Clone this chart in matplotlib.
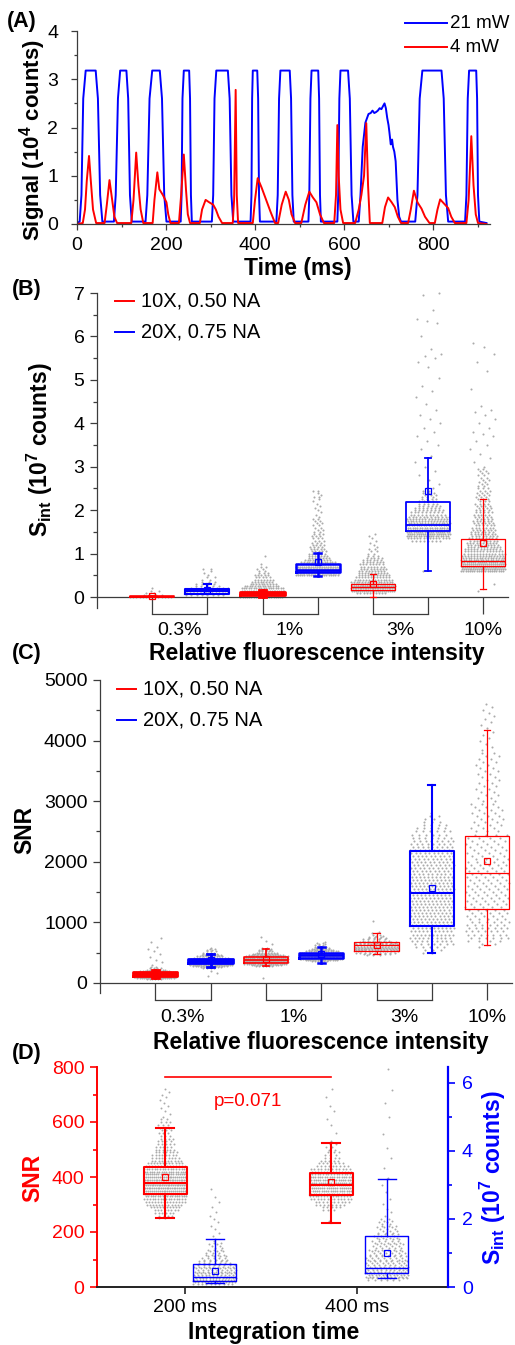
import matplotlib
matplotlib.use('Agg')
import matplotlib.pyplot as plt
import numpy as np
from matplotlib.ticker import MultipleLocator
from matplotlib.transforms import offset_copy
from matplotlib.lines import Line2D

plt.rcParams['font.family'] = ['Liberation Sans', 'DejaVu Sans']
plt.rcParams['mathtext.fontset'] = 'custom'
plt.rcParams['mathtext.rm'] = 'Liberation Sans'
plt.rcParams['mathtext.bf'] = 'Liberation Sans:bold'

# ---------------- DATA ----------------
# Panel A: signal traces (time in ms, signal in 1e4 counts)
A_t_21 = [0, 6, 10, 14, 19.5, 42, 47, 52, 57,
          83, 87, 92, 97, 111, 115, 119, 123,
          154, 158, 163, 169, 186, 191, 196, 201,
          233, 235, 237, 240, 252, 254, 256, 258,
          303, 306, 309, 313, 339, 343, 347, 351,
          390, 392, 393.5, 395, 405, 407, 409, 411,
          448, 451, 454, 457, 478, 481, 484, 487,
          520, 522, 524.5, 527, 542, 544, 546, 548,
          585, 587, 589.5, 592, 609, 613, 617, 621,
          633, 637, 642, 648, 655, 660, 664, 668, 672, 676, 680, 684, 688, 691, 694,
          697, 700, 702, 705, 708, 710, 713, 716, 718, 720, 724, 728,
          760, 765, 770, 776, 819, 824, 829, 834,
          872, 875, 878, 881, 897, 899, 901, 904, 920]
A_v_21 = [0.02, 0.05, 0.6, 2.6, 3.18, 3.18, 2.6, 0.6, 0.05,
          0.05, 0.6, 2.6, 3.18, 3.18, 2.6, 0.6, 0.05,
          0.05, 0.6, 2.6, 3.18, 3.18, 2.6, 0.6, 0.05,
          0.05, 0.6, 2.6, 3.18, 3.18, 2.6, 0.6, 0.05,
          0.05, 0.6, 2.6, 3.18, 3.18, 2.6, 0.6, 0.05,
          0.05, 0.6, 2.6, 3.18, 3.18, 2.6, 0.6, 0.05,
          0.05, 0.6, 2.6, 3.18, 3.18, 2.6, 0.6, 0.05,
          0.05, 0.6, 2.6, 3.18, 3.18, 2.6, 0.6, 0.05,
          0.05, 0.6, 2.6, 3.18, 3.18, 2.6, 0.6, 0.05,
          0.05, 0.6, 1.6, 2.1, 2.28, 2.3, 2.35, 2.3, 2.32, 2.35, 2.4, 2.38, 2.45, 2.5, 2.4,
          2.2, 2.05, 1.9, 1.65, 1.75, 1.6, 1.5, 1.3, 0.9, 0.5, 0.15, 0.05,
          0.05, 0.6, 2.6, 3.18, 3.18, 2.6, 0.6, 0.05,
          0.05, 0.6, 2.6, 3.18, 3.18, 2.6, 0.6, 0.05, 0.02]
A_t_4 = [0, 13, 18, 22, 27, 31, 36, 43,
         62, 67, 73, 79, 84, 90,
         122, 127, 133, 138, 143, 149,
         170, 174, 180.5, 185, 193, 201, 205, 210,
         229, 234, 240, 245, 249, 254,
         276, 281, 289, 297, 306, 312, 318, 326,
         350, 353, 356.5, 359, 362,
         395, 400, 406, 415, 425, 435, 445,
         452, 460, 469, 476, 482, 490,
         504, 513, 522, 530, 538, 546, 555,
         578, 582, 585, 588, 592, 598,
         625, 633, 639, 645, 650, 654, 658,
         686, 692, 699, 707, 714, 721, 728,
         744, 750, 757, 765, 774, 782, 792,
         804, 810, 816, 825, 834, 841, 849,
         875, 880, 886, 891, 896, 901, 920]
A_v_4 = [0.0, 0.02, 0.3, 0.9, 1.41, 0.9, 0.3, 0.02,
         0.02, 0.4, 0.91, 0.5, 0.15, 0.02,
         0.02, 0.5, 1.48, 0.8, 0.3, 0.02,
         0.02, 0.5, 1.07, 0.72, 0.6, 0.45, 0.2, 0.02,
         0.02, 0.6, 1.44, 0.7, 0.2, 0.02,
         0.02, 0.3, 0.5, 0.45, 0.4, 0.3, 0.15, 0.02,
         0.02, 0.5, 2.78, 0.6, 0.02,
         0.02, 0.5, 0.95, 0.75, 0.5, 0.25, 0.02,
         0.02, 0.4, 0.67, 0.5, 0.2, 0.02,
         0.02, 0.4, 0.67, 0.55, 0.45, 0.2, 0.02,
         0.02, 0.6, 2.05, 1.0, 0.3, 0.02,
         0.02, 0.3, 0.6, 1.0, 2.09, 0.8, 0.02,
         0.02, 0.35, 0.55, 0.45, 0.35, 0.15, 0.02,
         0.02, 0.3, 0.69, 0.45, 0.32, 0.15, 0.02,
         0.02, 0.3, 0.51, 0.42, 0.33, 0.15, 0.02,
         0.02, 0.5, 1.82, 0.8, 0.2, 0.02, 0.0]

# Panels B and C: groups (red 10X / blue 20X per intensity)
group_colors = ['r', 'b', 'r', 'b', 'r', 'b', 'r']
cat_labels = ['0.3%', '1%', '3%', '10%']
series_labels = ['10X, 0.50 NA', '20X, 0.75 NA']

# B: S_int (1e7 counts)
B_q1 = [0.005, 0.08, 0.05, 0.585, 0.17, 1.51, 0.71]
B_med = [0.01, 0.13, 0.085, 0.63, 0.23, 1.67, 0.83]
B_q3 = [0.02, 0.18, 0.12, 0.77, 0.31, 2.18, 1.34]
B_mean = [0.03, 0.17, 0.10, 0.80, 0.30, 2.45, 1.24]
B_wlo = [0.0, 0.06, 0.0, 0.48, 0.0, 0.59, 0.18]
B_whi = [0.03, 0.29, 0.17, 1.02, 0.52, 3.19, 2.26]
B_dot_lo = [0.0, 0.05, 0.0, 0.5, 0.1, 1.3, 0.6]
B_dot_step = [0.05, 0.05, 0.05, 0.05, 0.05, 0.05, 0.05]
B_dot_counts = [
    [14, 4, 2, 2, 1],
    [8, 14, 12, 8, 5, 4, 3, 2, 2, 1, 1, 1, 2],
    [20, 30, 30, 25, 18, 14, 10, 8, 7, 5, 5, 3, 2, 2, 2, 1, 0, 0, 0, 1],
    [20, 28, 30, 28, 24, 18, 14, 10, 8, 7, 6, 5, 5, 4, 4, 3, 3, 3, 3, 3,
     2, 2, 2, 2, 2, 2, 2, 1, 1, 1, 1, 1, 1, 1, 1, 1, 2, 1, 1, 2],
    [10, 22, 26, 24, 20, 16, 14, 12, 11, 10, 9, 9, 8, 8, 7, 6, 5, 3, 2, 2,
     2, 1, 1, 1, 1, 1, 1, 1],
    [8, 14, 18, 20, 20, 20, 18, 18, 16, 15, 14, 12, 10, 9, 8, 7, 6, 5, 4, 4,
     3, 3, 3, 2, 2],
    [20, 24, 24, 22, 20, 18, 16, 15, 14, 13, 12, 11, 10, 10, 9, 9, 8, 8, 7, 7,
     7, 6, 6, 6, 5, 5, 5, 5, 4, 4, 4, 4, 3, 3, 3, 3, 3, 3, 3, 2,
     2, 2, 2, 2, 2, 2, 2, 2],
]
B_dot_extra = [
    [], [], [], [], [],
    [0.6, 2.6, 2.7, 2.8, 2.9, 3.0, 3.1, 3.25, 3.4, 3.5, 3.6, 3.7, 3.8, 3.9, 4.0,
     4.1, 4.2, 4.3, 4.45, 4.6, 4.75, 4.85, 5.05, 5.3, 5.4, 5.5, 5.55, 5.6, 5.7,
     6.0, 6.3, 6.35, 6.4, 6.6, 6.95, 7.0],
    [0.15, 0.3, 3.0, 3.1, 3.2, 3.3, 3.4, 3.5, 3.6, 3.7, 3.75, 3.8, 3.9, 4.0, 4.1,
     4.2, 4.25, 4.3, 4.4, 4.8, 5.2, 5.4, 5.6, 5.75, 5.85],
]

# C: SNR
C_q1 = [121, 330, 335, 418, 522, 945, 1220]
C_med = [150, 363, 379, 456, 626, 1490, 1820]
C_q3 = [187, 401, 434, 500, 670, 2176, 2425]
C_mean = [152, 374, 396, 473, 626, 1560, 2010]
C_wlo = [77, 264, 280, 330, 473, 495, 620]
C_whi = [220, 478, 560, 599, 830, 3264, 4176]
C_dot_lo = [60, 240, 280, 360, 460, 500, 600]
C_dot_step = [20, 20, 20, 20, 20, 50, 50]
C_dot_counts = [
    [6, 18, 28, 34, 36, 32, 24, 14, 8, 4, 2],
    [4, 8, 14, 20, 26, 30, 30, 26, 20, 14, 10, 7, 5, 4, 3, 2, 2, 1],
    [6, 12, 20, 26, 30, 30, 26, 22, 18, 14, 10, 8, 5, 4, 3, 2],
    [6, 14, 24, 30, 32, 30, 26, 20, 14, 10, 7, 5, 4, 3, 2, 2, 1],
    [3, 6, 9, 12, 14, 15, 15, 15, 14, 12, 10, 8, 6, 5, 4, 3, 2, 2, 1, 1],
    [2, 3, 5, 7, 9, 10, 11, 11, 11, 11,
     11, 11, 11, 11, 11, 11, 11, 11, 11, 11,
     11, 11, 11, 11, 11, 11, 10, 10, 10, 10,
     10, 10, 10, 10, 9, 9, 8, 8, 7, 6,
     6, 5, 4, 3, 2, 2, 1],
    [1, 2, 4, 6, 7, 7, 7, 6, 6, 5,
     5, 5, 5, 5, 5, 5, 5, 5, 5, 5,
     5, 5, 5, 5, 5, 5, 5, 5, 5, 4,
     4, 4, 4, 4, 4, 4, 4, 4, 3, 3,
     3, 3, 3, 3, 3, 3, 3, 3, 2, 2,
     2, 2, 2, 2, 2, 2, 2, 2, 2, 2,
     2, 2, 2, 2, 2, 1, 1, 1, 1, 1,
     1, 1, 1, 1, 1, 1, 1, 1, 1, 1,
     1],
]
C_dot_extra = [
    [300, 340, 380, 430, 480, 520, 560, 600, 680, 742],
    [120, 165, 200],
    [88, 640, 700, 764],
    [],
    [1016],
    [],
    [],
]

# D: integration time
D_labels = ['200 ms', '400 ms']
D_snr_q1 = [337, 334]
D_snr_med = [380, 372]
D_snr_q3 = [435, 415]
D_snr_mean = [401, 383]
D_snr_wlo = [252, 233]
D_snr_whi = [579, 523]
D_snr_dot_lo = [250, 280]
D_snr_dot_step = [10, 10]
D_snr_dot_counts = [
    [2, 4, 6, 8, 10, 12, 14, 16, 18, 20, 22, 24, 24, 24, 24, 22, 20, 18, 16, 14,
     12, 10, 9, 8, 7, 6, 5, 5, 4, 4, 3, 3, 3, 3, 3, 3, 2],
    [3, 5, 8, 10, 13, 15, 17, 19, 20, 20, 20, 19, 18, 16, 14, 12, 9, 7, 5, 4,
     3, 3, 2, 2, 2, 1],
]
D_snr_dot_extra = [
    [620, 630, 640, 650, 660, 670, 680, 690, 700, 710, 720],
    [240, 560, 590, 610, 640, 660, 690, 720],
]
D_sint_q1 = [0.17, 0.42]
D_sint_med = [0.28, 0.57]
D_sint_q3 = [0.67, 1.51]
D_sint_mean = [0.46, 1.01]
D_sint_wlo = [0.13, 0.25]
D_sint_whi = [1.41, 3.19]
D_sint_dot_lo = [0.1, 0.2]
D_sint_dot_step = [0.05, 0.05]
D_sint_dot_counts = [
    [10, 14, 14, 13, 12, 11, 10, 10, 9, 9, 9, 8, 7, 6, 5, 5, 4, 4, 3, 3,
     3, 2, 2, 2, 2, 1],
    [6, 10, 12, 12, 12, 11, 10, 9, 9, 8, 8, 8, 7, 7, 7, 6, 6, 6, 6, 5,
     5, 5, 5, 5, 4, 4, 4, 4, 3, 3, 3, 3, 3, 2, 2, 2, 2],
]
D_sint_dot_extra = [
    [1.5, 1.6, 1.7, 1.8, 1.9, 2.0, 2.1, 2.2, 2.35, 2.5, 2.65, 2.88],
    [2.1, 2.2, 2.3, 2.45, 2.6, 2.8, 3.0, 3.2, 3.5, 3.8, 4.1, 4.5, 5.0, 5.4, 5.8, 6.4],
]
D_p_text = 'p=0.071'
D_sig_level = 764
D_p_level = 676

# ---------------- STYLE / LAYOUT ----------------
W, H = 515, 1345
RED = '#ff0000'
BLUE = '#0000ff'
GRAY = '#ababab'
AXC = '#3c3c3c'
COL = {'r': RED, 'b': BLUE}
TICK_FS = 14
LAB_FS = 16.5
LEG_FS = 14.5

fig = plt.figure(figsize=(W / 100, H / 100), dpi=100)


def add_ax(l, t, r, b):
    return fig.add_axes([l / W, 1 - b / H, (r - l) / W, (b - t) / H])


def ftext(x, y, s, **kw):
    return fig.text(x / W, 1 - y / H, s, **kw)


def fline(x0, x1, y, color, lw=1.4):
    fig.add_artist(Line2D([x0 / W, x1 / W], [1 - y / H, 1 - y / H],
                          transform=fig.transFigure, color=color, lw=lw))


def draw_dots(ax, pos, lo, step, counts, extras, width, extra_w=0.5, s=2.2):
    counts = np.asarray(counts, dtype=float)
    nref = max(counts.max() * 0.7, 1)
    xs, ys = [], []
    for k, n in enumerate(counts.astype(int)):
        if n <= 0:
            continue
        y = lo + k * step
        w = width * min(1.0, 0.15 + n / nref)
        shift = ((k * 0.618034) % 1 - 0.5) / n
        off = ((np.arange(n) + 0.5) / n - 0.5 + shift) * w
        xs.extend(pos + off)
        ys.extend([y] * n)
    for i, v in enumerate(extras):
        xs.append(pos + (((i * 0.618034 + 0.3) % 1) - 0.5) * width * extra_w)
        ys.append(v)
    ax.scatter(xs, ys, s=s, c=GRAY, linewidths=0, zorder=1, clip_on=False)


def draw_box(ax, pos, q1, med, q3, mean, wlo, whi, color, width, capw, lw):
    st = dict(q1=q1, med=med, q3=q3, mean=mean, whislo=wlo, whishi=whi, fliers=[])
    ax.bxp([st], positions=[pos], widths=[width], capwidths=[capw],
           showmeans=True, showfliers=False, manage_ticks=False, zorder=3,
           boxprops=dict(color=color, lw=lw),
           medianprops=dict(color=color, lw=lw),
           whiskerprops=dict(color=color, lw=lw),
           capprops=dict(color=color, lw=lw),
           meanprops=dict(marker='s', markerfacecolor='none', markeredgecolor=color,
                          markersize=4.5, markeredgewidth=0.9))


def base_spines(ax, color=AXC, lw=0.9):
    for s in ['top', 'right']:
        ax.spines[s].set_visible(False)
    for s in ['left', 'bottom']:
        ax.spines[s].set_color(color)
        ax.spines[s].set_linewidth(lw)


# ---------------- PANEL A ----------------
axA = add_ax(77, 31, 490, 224)
axA.plot(A_t_21, A_v_21, color=BLUE, lw=1.4, label='21 mW')
axA.plot(A_t_4, A_v_4, color=RED, lw=1.4, label='4 mW')
axA.set_xlim(0, 928)
axA.set_ylim(0, 4)
base_spines(axA)
axA.xaxis.set_major_locator(MultipleLocator(200))
axA.xaxis.set_minor_locator(MultipleLocator(100))
axA.yaxis.set_major_locator(MultipleLocator(1))
axA.yaxis.set_minor_locator(MultipleLocator(0.5))
axA.tick_params(which='major', direction='out', length=4.5, width=0.9, color=AXC, labelsize=TICK_FS)
axA.tick_params(which='minor', direction='out', length=2.5, width=0.9, color=AXC)
axA.tick_params(axis='y', pad=9)
axA.tick_params(axis='x', pad=5)
ftext(298, 268, 'Time (ms)', ha='center', va='center', fontsize=LAB_FS, fontweight='bold')
ftext(33, 140, r'Signal (10$^{\mathregular{4}}$ counts)', ha='center', va='center',
      rotation=90, fontsize=16, fontweight='bold')
ftext(22, 22, '(A)', ha='center', va='center', fontsize=15.5, fontweight='bold')
fline(405, 447, 23, BLUE)
fline(405, 447, 47, RED)
ftext(450, 23, '21 mW', va='center', ha='left', fontsize=13.5)
ftext(450, 47, '4 mW', va='center', ha='left', fontsize=13.5)


# ---------------- PANELS B / C ----------------
def cat_panel(box, ylim, ymaj, ymin, q1, med, q3, mean, wlo, whi, dlo, dstep, dcounts, dextra,
              lws, ylabel, ylab_xy, xlab_xy, letter_xy, letter, leg_y, leg_x, lab_off_pt,
              extra_w):
    ax = add_ax(*box)
    ax.set_xlim(0, 7.45)
    ax.set_ylim(*ylim)
    base_spines(ax)
    ax.spines['bottom'].set_position(('data', 0))
    positions = np.arange(1, len(q1) + 1)
    width = 0.8
    for i, p in enumerate(positions):
        draw_dots(ax, p, dlo[i], dstep[i], dcounts[i], dextra[i], width, extra_w=extra_w)
        draw_box(ax, p, q1[i], med[i], q3[i], mean[i], wlo[i], whi[i],
                 COL[group_colors[i]], width, 0.12, lws[i])
    ax.yaxis.set_major_locator(MultipleLocator(ymaj))
    ax.yaxis.set_minor_locator(MultipleLocator(ymin))
    ax.tick_params(axis='y', which='major', direction='out', length=5, width=0.9, color=AXC,
                   labelsize=TICK_FS, pad=4)
    ax.tick_params(axis='y', which='minor', direction='out', length=3, width=0.9, color=AXC)
    tick_len = 12.5
    ax.set_xticks(positions)
    ax.set_xticklabels([])
    ax.tick_params(axis='x', which='major', direction='out', length=tick_len, width=0.9, color=AXC)
    tr = offset_copy(ax.transData, fig=fig, y=-tick_len, units='points')
    cat_pos = []
    for j in range(0, len(positions), 2):
        if j + 1 < len(positions):
            ax.plot([positions[j], positions[j + 1]], [0, 0], transform=tr, color=AXC,
                    lw=0.9, clip_on=False, solid_capstyle='projecting')
            cat_pos.append((positions[j] + positions[j + 1]) / 2)
        else:
            cat_pos.append(positions[j])
    for x, lab in zip(cat_pos, cat_labels):
        ax.annotate(lab, (x, 0), xytext=(0, -lab_off_pt), textcoords='offset points',
                    ha='center', va='center', fontsize=TICK_FS, annotation_clip=False)
    ftext(ylab_xy[0], ylab_xy[1], ylabel, ha='center', va='center', rotation=90,
          fontsize=LAB_FS, fontweight='bold')
    ftext(xlab_xy[0], xlab_xy[1], 'Relative fluorescence intensity', ha='center', va='center',
          fontsize=LAB_FS, fontweight='bold')
    ftext(letter_xy[0], letter_xy[1], letter, ha='center', va='center', fontsize=15.5,
          fontweight='bold')
    for yy, c, lab in zip(leg_y, [RED, BLUE], series_labels):
        fline(leg_x, leg_x + 19, yy, c, lw=1.4)
        ftext(leg_x + 26, yy, lab, va='center', ha='left', fontsize=LEG_FS)
    return ax


axB = cat_panel((97, 293, 508, 607.9), (-0.25, 7), 1, 0.5,
                B_q1, B_med, B_q3, B_mean, B_wlo, B_whi,
                B_dot_lo, B_dot_step, B_dot_counts, B_dot_extra,
                [1.2, 1.5, 2.0, 1.8, 0.9, 1.3, 0.9],
                r'S$_{\mathregular{int}}$ (10$^{\mathregular{7}}$ counts)',
                (40, 450), (317, 653), (27, 290), '(B)', (301, 332), 115, 24.0, 0.6)

axC = cat_panel((100, 680, 512, 993.3), (-170, 5000), 1000, 500,
                C_q1, C_med, C_q3, C_mean, C_wlo, C_whi,
                C_dot_lo, C_dot_step, C_dot_counts, C_dot_extra,
                [2.0, 2.0, 1.2, 1.8, 0.9, 1.5, 0.9],
                'SNR', (25, 830), (321, 1043), (27, 653), '(C)', (689, 720), 117, 24.5, 0.35)

# ---------------- PANEL D ----------------
axD = add_ax(97, 1067, 448, 1287)
axD.set_xlim(0.488, 2.529)
axD.set_ylim(0, 800)
axR = axD.twinx()
axR.set_ylim(0, 6.47)
for s in ['top', 'right']:
    axD.spines[s].set_visible(False)
axD.spines['left'].set_color(RED)
axD.spines['left'].set_linewidth(1.4)
axD.spines['bottom'].set_color('#222222')
axD.spines['bottom'].set_linewidth(1.4)
for s in ['top', 'left', 'bottom']:
    axR.spines[s].set_visible(False)
axR.spines['right'].set_color(BLUE)
axR.spines['right'].set_linewidth(1.6)

red_pos = [0.884, 1.849]
blue_pos = [1.174, 2.174]
bw = 0.25
for i in range(2):
    draw_dots(axD, red_pos[i], D_snr_dot_lo[i], D_snr_dot_step[i], D_snr_dot_counts[i],
              D_snr_dot_extra[i], bw, extra_w=0.25, s=2.0)
    draw_box(axD, red_pos[i], D_snr_q1[i], D_snr_med[i], D_snr_q3[i], D_snr_mean[i],
             D_snr_wlo[i], D_snr_whi[i], RED, bw, 0.105, 1.5)
    draw_dots(axR, blue_pos[i], D_sint_dot_lo[i], D_sint_dot_step[i], D_sint_dot_counts[i],
              D_sint_dot_extra[i], bw, extra_w=0.25, s=2.0)
    draw_box(axR, blue_pos[i], D_sint_q1[i], D_sint_med[i], D_sint_q3[i], D_sint_mean[i],
             D_sint_wlo[i], D_sint_whi[i], BLUE, bw, 0.105, 1.0)

axD.plot(red_pos, [D_sig_level, D_sig_level], color=RED, lw=1.2, zorder=4)
axD.text(np.mean(red_pos), D_p_level, D_p_text, ha='center', va='center', color=RED,
         fontsize=13.5, zorder=4)

axD.set_xticks([1, 2])
axD.set_xticklabels(D_labels)
axD.tick_params(axis='x', direction='out', length=5, width=1.2, color='#222222',
                labelsize=TICK_FS, pad=4)
axD.yaxis.set_major_locator(MultipleLocator(200))
axD.yaxis.set_minor_locator(MultipleLocator(100))
axD.tick_params(axis='y', which='major', direction='out', length=5, width=1.2, color=RED,
                labelcolor=RED, labelsize=TICK_FS, pad=4)
axD.tick_params(axis='y', which='minor', direction='out', length=3, width=1.2, color=RED)
axR.yaxis.set_major_locator(MultipleLocator(2))
axR.yaxis.set_minor_locator(MultipleLocator(1))
axR.tick_params(axis='y', which='major', direction='out', length=5, width=1.2, color=BLUE,
                labelcolor=BLUE, labelsize=TICK_FS, pad=5)
axR.tick_params(axis='y', which='minor', direction='out', length=3, width=1.2, color=BLUE)

ftext(274, 1332, 'Integration time', ha='center', va='center', fontsize=LAB_FS,
      fontweight='bold')
ftext(33, 1178, 'SNR', ha='center', va='center', rotation=90, fontsize=LAB_FS,
      fontweight='bold', color=RED)
ftext(493, 1178, r'S$_{\mathregular{int}}$ (10$^{\mathregular{7}}$ counts)', ha='center',
      va='center', rotation=90, fontsize=LAB_FS, fontweight='bold', color=BLUE)
ftext(27, 1053, '(D)', ha='center', va='center', fontsize=15.5, fontweight='bold')

fig.savefig('out.png', dpi=100)
